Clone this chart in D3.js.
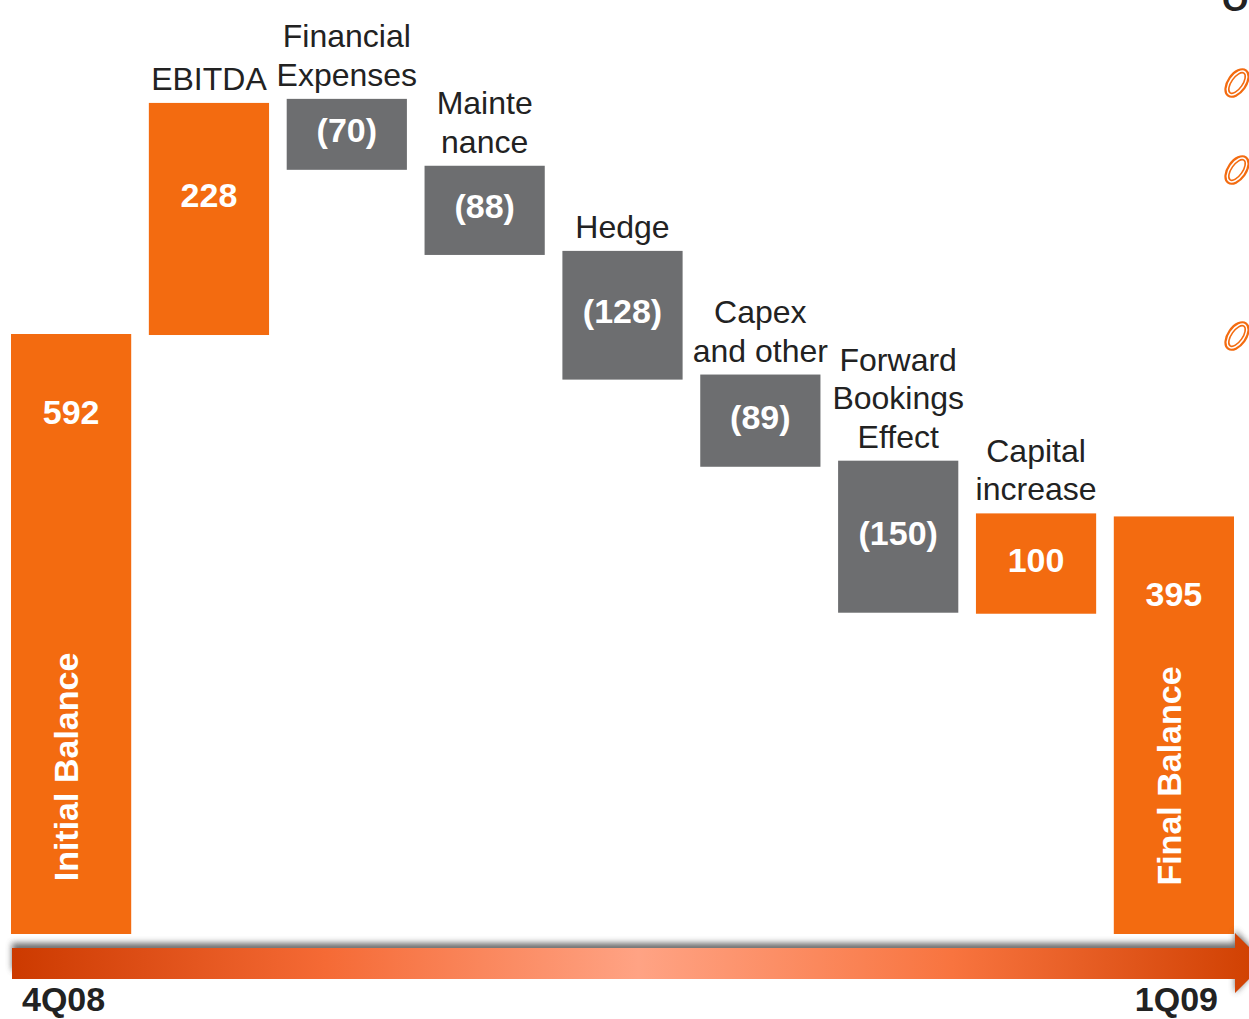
<!DOCTYPE html>
<html>
<head>
<meta charset="utf-8">
<script src="https://cdn.jsdelivr.net/npm/d3@7"></script>
<style>
  html, body { margin: 0; padding: 0; background: #ffffff; }
  svg { display: block; }
  text { font-family: "Liberation Sans", Arial, sans-serif; }
</style>
</head>
<body>
<div id="chart"></div>
<script>
// ---- data ----
const categories = ["Initial Balance", "EBITDA", "Financial Expenses", "Maintenance", "Hedge",
                    "Capex and other", "Forward Bookings Effect", "Capital increase", "Final Balance"];
const values = [592, 228, -70, -88, -128, -89, -150, 100, 395];
const valueLabels = ["592", "228", "(70)", "(88)", "(128)", "(89)", "(150)", "100", "395"];
const kinds = ["total", "up", "down", "down", "down", "down", "down", "up", "total"];
// bar extents as drawn on the slide (data units)
const barLow  = [0, 591, 754, 670, 547, 461, 317, 316, 0];
const barHigh = [592, 820, 824, 758, 674, 552, 467, 415, 412];
// category header lines above the bars
const headerLines = [[], ["EBITDA"], ["Financial", "Expenses"], ["Mainte", "nance"], ["Hedge"],
                     ["Capex", "and other"], ["Forward", "Bookings", "Effect"], ["Capital", "increase"], []];
const periodLabels = ["4Q08", "1Q09"];

// ---- layout ----
const W = 1249, H = 1019;
const ORANGE = "#f36b10", GRAY = "#6d6e70", DARK = "#222222";

const svg = d3.select("#chart").append("svg").attr("width", W).attr("height", H);
const defs = svg.append("defs");

const x = d3.scaleBand().domain(categories).range([11, 1234]).paddingInner(0.128).paddingOuter(0);
const y = d3.scaleLinear().domain([0, 592]).range([934, 334]);

const data = categories.map((c, i) => ({
  cat: c, value: values[i], label: valueLabels[i], kind: kinds[i],
  low: barLow[i], high: barHigh[i], lines: headerLines[i]
}));

// bars
svg.append("g").selectAll("rect").data(data).join("rect")
  .attr("x", d => x(d.cat))
  .attr("width", x.bandwidth())
  .attr("y", d => y(d.high))
  .attr("height", d => y(d.low) - y(d.high))
  .attr("fill", d => d.kind === "down" ? GRAY : ORANGE);

// value labels
svg.append("g").selectAll("text").data(data).join("text")
  .attr("x", d => x(d.cat) + x.bandwidth() / 2)
  .attr("y", d => {
    const top = y(d.high), mid = (y(d.high) + y(d.low)) / 2;
    return (d.kind === "total" ? top + 78 : Math.min(mid - 4, top + 92)) + 12;
  })
  .attr("text-anchor", "middle")
  .attr("font-size", 34).attr("font-weight", "bold").attr("fill", "#ffffff")
  .text(d => d.label);

// header labels
const hdr = svg.append("g");
data.forEach(d => {
  const n = d.lines.length;
  d.lines.forEach((ln, j) => {
    hdr.append("text")
      .attr("x", x(d.cat) + x.bandwidth() / 2)
      .attr("y", y(d.high) - 13 - (n - 1 - j) * 38.5)
      .attr("text-anchor", "middle")
      .attr("font-size", 32).attr("fill", DARK)
      .text(ln);
  });
});

// vertical labels in total bars
data.filter(d => d.kind === "total").forEach(d => {
  const cx = x(d.cat) + x.bandwidth() / 2 + 7;
  const cy = d.cat === "Initial Balance" ? 767 : 776;
  svg.append("text")
    .attr("transform", `translate(${cx},${cy}) rotate(-90)`)
    .attr("text-anchor", "middle")
    .attr("font-size", 34).attr("font-weight", "bold").attr("fill", "#ffffff")
    .text(d.cat);
});

// timeline arrow
const grad = defs.append("linearGradient").attr("id", "arrowGrad")
  .attr("x1", "0%").attr("x2", "100%").attr("y1", "0%").attr("y2", "0%");
grad.append("stop").attr("offset", "0%").attr("stop-color", "#cc3a00");
grad.append("stop").attr("offset", "25%").attr("stop-color", "#f56a35");
grad.append("stop").attr("offset", "50%").attr("stop-color", "#ffa384");
grad.append("stop").attr("offset", "75%").attr("stop-color", "#f8743f");
grad.append("stop").attr("offset", "100%").attr("stop-color", "#cf3f00");

const blur = defs.append("filter").attr("id", "shadowBlur")
  .attr("x", "-5%").attr("y", "-100%").attr("width", "110%").attr("height", "300%");
blur.append("feGaussianBlur").attr("stdDeviation", 3);

const x0 = 12, x1 = 1235;
svg.append("path")
  .attr("d", `M${x0},${943}L${x1},${943}L${x1},${930}L${x1 + 28},${961}L${x1},${993}L${x1},${970}L${x0},${970}Z`)
  .attr("fill", "#555").attr("opacity", 0.85).attr("filter", "url(#shadowBlur)");
svg.append("path")
  .attr("d", `M${x0},${948}L${x1},${948}L${x1},${933}L${x1 + 30},${963}L${x1},${993}L${x1},${979}L${x0},${979}Z`)
  .attr("fill", "url(#arrowGrad)");

svg.append("text").attr("x", 22).attr("y", 1011)
  .attr("font-size", 34).attr("font-weight", "bold").attr("fill", DARK).text(periodLabels[0]);
svg.append("text").attr("x", 1218).attr("y", 1011).attr("text-anchor", "end")
  .attr("font-size", 34).attr("font-weight", "bold").attr("fill", DARK).text(periodLabels[1]);

// decorative bullets at right edge (cut-off slide text)
svg.append("text").attr("x", 1222).attr("y", 11)
  .attr("font-size", 34).attr("font-weight", "bold").attr("fill", DARK).text("O");
[83, 170, 336].forEach(cy => {
  const g = svg.append("g").attr("transform", `translate(1237,${cy}) rotate(35)`);
  g.append("ellipse").attr("rx", 9).attr("ry", 15.5)
    .attr("fill", "none").attr("stroke", ORANGE).attr("stroke-width", 2.2);
  g.append("ellipse").attr("rx", 5.5).attr("ry", 12)
    .attr("fill", "none").attr("stroke", ORANGE).attr("stroke-width", 1.6);
});
</script>
</body>
</html>
